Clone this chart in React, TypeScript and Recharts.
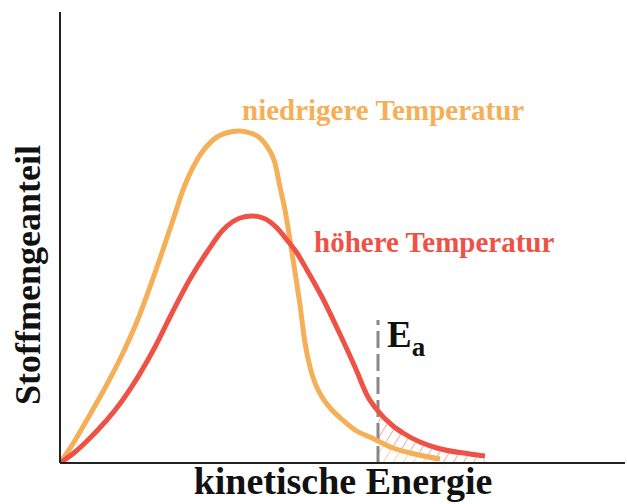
import { ComposedChart, Line, Area, XAxis, YAxis, ReferenceLine } from 'recharts'

// Energie (x) und Anteil (y) der Kurven
const lowTempX = [0, 14, 28, 45, 62, 78, 97, 113, 123, 137, 153, 170, 180, 190, 200, 208, 215, 220, 225, 230, 235, 240, 245, 250, 255, 262, 272, 285, 295, 312, 318, 333, 350, 380]
const lowTempY = [0, 21, 45, 75, 108, 144, 196, 243, 273, 303, 323, 331, 332, 330, 325, 315, 300, 276, 253, 223, 191, 158, 120, 96, 80, 66, 53, 41, 33, 25, 22, 15, 10, 4]
const highTempX = [0, 15, 28, 62, 95, 113, 130, 147, 163, 180, 192, 203, 217, 227, 237, 247, 262, 278, 295, 308, 318, 333, 343, 360, 377, 410, 425]
const highTempY = [0, 11, 23, 62, 116, 152, 184, 211, 233, 245, 247, 245, 235, 223, 210, 193, 166, 133, 96, 66, 52, 37, 30, 21, 15, 9, 7]
const activationEnergy = 318
const eaLineTop = 143

const lowLabel = 'niedrigere Temperatur'
const highLabel = 'höhere Temperatur'

const ORANGE = '#F5AF58'
const RED = '#EE5246'
const serif = '"Liberation Serif", "Times New Roman", serif'

const lowData = lowTempX.map((x, i) => ({ x, y: lowTempY[i] }))
const highData = highTempX.map((x, i) => ({ x, y: highTempY[i] }))
const lowTail = lowData.filter(d => d.x >= activationEnergy)
const highTail = highData.filter(d => d.x >= activationEnergy)

export default function App() {
  return (
    <div style={{ position: 'absolute', left: 0, top: 0, width: 627, height: 504, background: '#fff' }}>
      <ComposedChart width={627} height={504} margin={{ top: 12, right: 2, bottom: 41, left: 60 }}>
        <defs>
          <pattern id="hatchRed" width="8.5" height="8.5" patternUnits="userSpaceOnUse" patternTransform="rotate(32)">
            <rect width="8.5" height="8.5" fill="#fff" />
            <line x1="0" y1="0" x2="0" y2="8.5" stroke="#F47468" strokeWidth="1.2" />
          </pattern>
          <pattern id="hatchOrange" width="8.5" height="8.5" patternUnits="userSpaceOnUse" patternTransform="rotate(32)">
            <rect width="8.5" height="8.5" fill="#fff" />
            <line x1="0" y1="0" x2="0" y2="8.5" stroke="#F8B47A" strokeWidth="1.2" />
          </pattern>
        </defs>
        <XAxis dataKey="x" type="number" domain={[0, 565]} hide allowDataOverflow />
        <YAxis type="number" domain={[0, 451]} hide allowDataOverflow />
        <Area data={highTail} dataKey="y" type="monotone" stroke="none" fill="url(#hatchRed)" fillOpacity={1} isAnimationActive={false} />
        <Area data={lowTail} dataKey="y" type="monotone" stroke="none" fill="url(#hatchOrange)" fillOpacity={1} isAnimationActive={false} />
        <ReferenceLine segment={[{ x: activationEnergy, y: 0 }, { x: activationEnergy, y: eaLineTop }]}
          stroke="#888" strokeWidth={3} strokeDasharray="17 6" />
        <Line data={lowData} dataKey="y" type="monotone" stroke={ORANGE} strokeWidth={5} dot={false} isAnimationActive={false} />
        <Line data={highData} dataKey="y" type="monotone" stroke={RED} strokeWidth={5} dot={false} isAnimationActive={false} />
        <ReferenceLine y={0} stroke="#222" strokeWidth={2} />
        <ReferenceLine x={0} stroke="#222" strokeWidth={2} />
        <text x={242} y={120} fill={ORANGE} fontFamily={serif} fontWeight="bold" fontSize={29}>{lowLabel}</text>
        <text x={314} y={252} fill={RED} fontFamily={serif} fontWeight="bold" fontSize={29}>{highLabel}</text>
        <text x={387} y={347} fill="#111" fontFamily={serif} fontWeight="bold" fontSize={37}>
          E<tspan fontSize={27} dy={9}>a</tspan>
        </text>
        <text x={343} y={494} textAnchor="middle" fill="#111" fontFamily={serif} fontWeight="bold" fontSize={38}>kinetische Energie</text>
        <text x={0} y={0} transform="translate(40 275) rotate(-90)" textAnchor="middle" fill="#111" fontFamily={serif} fontWeight="bold" fontSize={36}>Stoffmengeanteil</text>
      </ComposedChart>
    </div>
  )
}
